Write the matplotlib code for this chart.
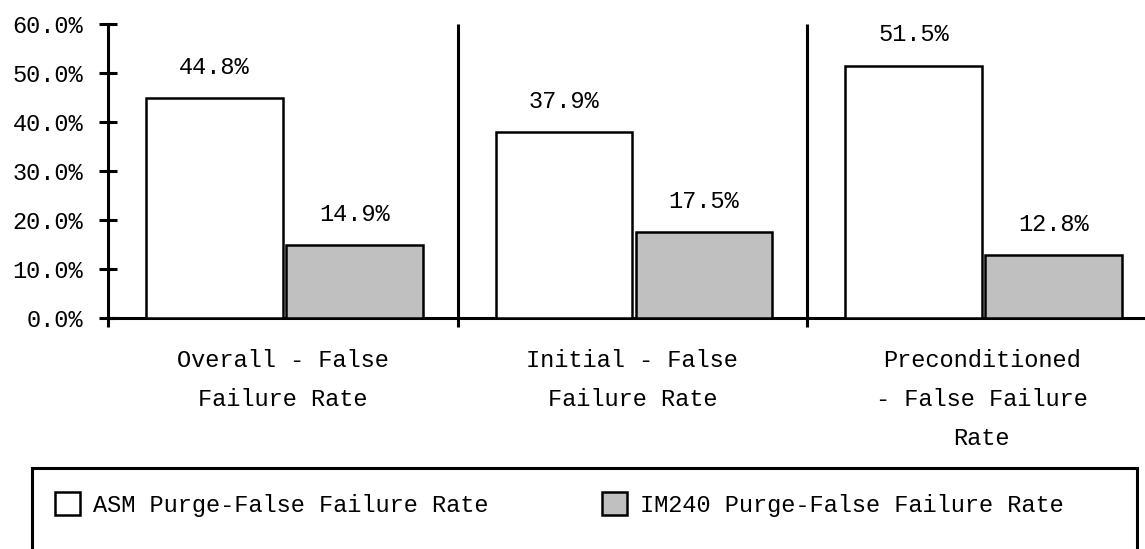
import matplotlib.pyplot as plt
from matplotlib.patches import Rectangle
import numpy as np

categories = ['Overall - False\nFailure Rate',
              'Initial - False\nFailure Rate',
              'Preconditioned\n- False Failure\nRate']
asm = [44.8, 37.9, 51.5]
im240 = [14.9, 17.5, 12.8]
series_names = ['ASM Purge-False Failure Rate', 'IM240 Purge-False Failure Rate']
yticks = [0, 10, 20, 30, 40, 50, 60]

plt.rcParams['font.family'] = ['Liberation Mono', 'DejaVu Sans Mono']
plt.rcParams['font.size'] = 17

fig = plt.figure(figsize=(11.45, 5.49), dpi=100)
W, H = 1145.0, 549.0
# axes spans 3 categories, the last one runs off the right edge
ax = fig.add_axes([108 / W, (H - 318) / H, 1048.5 / W, 294 / H])

x = np.arange(len(categories))
bw = 0.39
b1 = ax.bar(x + 0.305, asm, bw, color='white', edgecolor='black', linewidth=1.8,
            label=series_names[0], zorder=3)
b2 = ax.bar(x + 0.705, im240, bw, color='#c0c0c0', edgecolor='black', linewidth=1.8,
            label=series_names[1], zorder=3)

for bars, vals in ((b1, asm), (b2, im240)):
    for r, v in zip(bars, vals):
        ax.annotate('%.1f%%' % v, xy=(r.get_x() + r.get_width() / 2, v),
                    xytext=(0, 22.3), textcoords='offset points',
                    ha='center', va='center', fontsize=17)

# category separators
ax.vlines([1, 2], 0, 60, colors='black', linewidth=2.2, zorder=2)

ax.set_xlim(0, 3)
ax.set_ylim(0, 60)
ax.set_yticks(yticks)
ax.set_yticklabels(['%.1f%%' % t for t in yticks])
ax.set_xticks(x + 0.5)
ax.set_xticklabels(categories, linespacing=1.9)
ax.set_xticks(np.arange(len(categories) + 1), minor=True)

for s in ('top', 'right'):
    ax.spines[s].set_visible(False)
for s in ('left', 'bottom'):
    ax.spines[s].set_linewidth(2.2)

ax.tick_params(axis='y', direction='inout', length=13, width=2.2, pad=11.5)
ax.tick_params(axis='x', which='major', length=0, pad=22)
ax.tick_params(axis='x', which='minor', direction='out', length=6.5, width=2.2)

# legend box (runs off the bottom of the picture)
fig.patches.append(Rectangle((32 / W, -0.05), 1105 / W, (H - 468) / H + 0.05,
                             transform=fig.transFigure, facecolor='none',
                             edgecolor='black', linewidth=2.2))
fig.legend(handles=[b1, b2], loc='center left', bbox_to_anchor=(55 / W, 44.5 / H),
           ncol=2, frameon=False, borderpad=0, borderaxespad=0,
           handlelength=1.06, handleheight=1.06,
           handletextpad=0.55, columnspacing=4.79, fontsize=17)

fig.savefig('out.png', dpi=100)
